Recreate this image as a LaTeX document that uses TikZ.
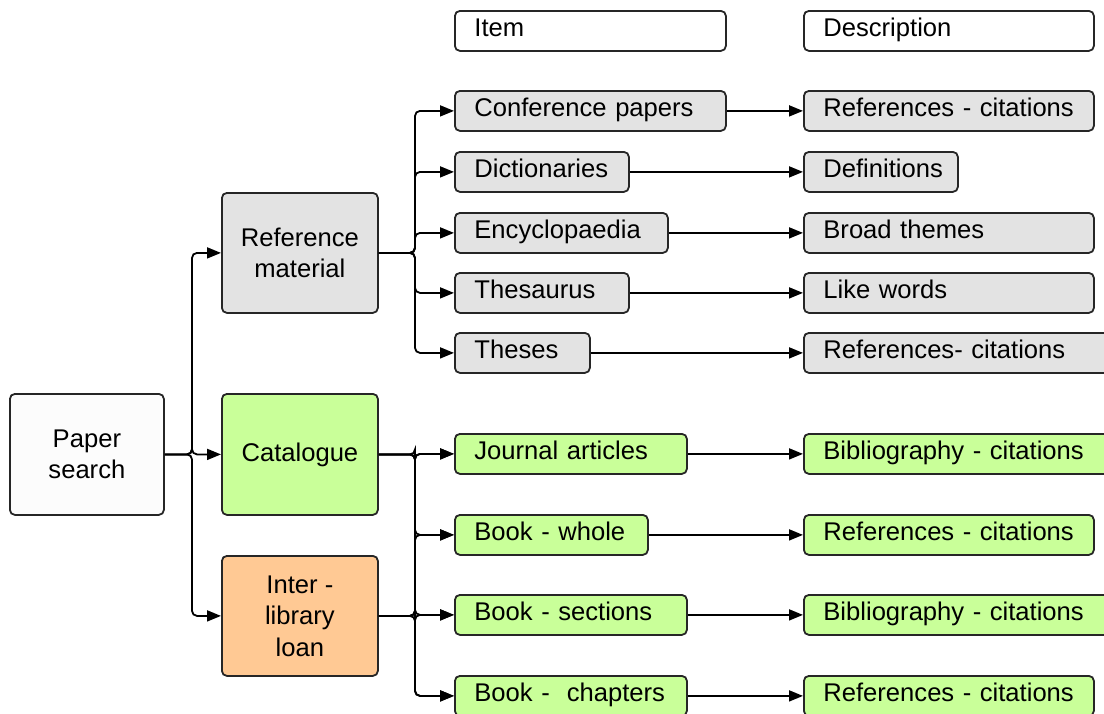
\documentclass[tikz,border=0pt]{standalone}
\usepackage{fontspec}
\setmainfont{Liberation Sans}
\usetikzlibrary{arrows.meta}
\definecolor{boxgray}{HTML}{E3E3E3}
\definecolor{boxgreen}{HTML}{C9FF99}
\definecolor{boxorange}{HTML}{FFC994}
\definecolor{boxwhite}{HTML}{FCFCFC}
\definecolor{edge}{HTML}{262626}
\begin{document}
\begin{tikzpicture}[x=1pt,y=-1pt,
  every node/.style={font=\fontsize{25.6}{31.5}\selectfont, text=black},
  base/.style={draw=edge, line width=1.8pt, rounded corners=5pt},
  % one-line box, text set 20 units from the left edge
  cell/.style={base, anchor=north west, inner xsep=0pt, inner ysep=0pt,
    text width=#1, align=left, minimum height=40pt,
    text height=18pt, text depth=6pt,
    execute at begin node={\hspace*{19.5pt}}},
  % large box, text centred
  block/.style={base, anchor=north west, inner sep=0pt, align=center,
    minimum width=156pt, minimum height=120pt},
  conn/.style={draw=black, line width=1.8pt, rounded corners=5pt,
    -{Triangle[length=14pt,width=11pt]}}
]
\useasboundingbox (0,0) rectangle (1104,713);
\clip (0,0) rectangle (1104,713);

% column headings
\node[cell=271pt, fill=white] (hitem) at (454,10) {Item};
\node[cell=290pt, fill=white] (hdesc) at (803,10) {Description};

% left column
\node[block, fill=boxwhite, minimum width=154pt, minimum height=121pt] (ps) at (9,393) {Paper\\search};
\node[block, fill=boxgray] (rm) at (221,192) {Reference\\material};
\node[block, fill=boxgreen, minimum height=121pt] (cat) at (221,393) {Catalogue};
\node[block, fill=boxorange] (ill) at (221,555) {Inter -\\library\\loan};

% reference material items
\node[cell=271pt, fill=boxgray] (r1) at (454,90)  {Conference papers};
\node[cell=174pt, fill=boxgray] (r2) at (454,151) {Dictionaries};
\node[cell=213pt, fill=boxgray] (r3) at (454,212) {Encyclopaedia};
\node[cell=174pt, fill=boxgray] (r4) at (454,272) {Thesaurus};
\node[cell=135pt, fill=boxgray] (r5) at (454,332) {Theses};

\node[cell=290pt, fill=boxgray] (d1) at (803,90)  {References - citations};
\node[cell=154pt, fill=boxgray] (d2) at (803,151) {Definitions};
\node[cell=290pt, fill=boxgray] (d3) at (803,212) {Broad themes};
\node[cell=290pt, fill=boxgray] (d4) at (803,272) {Like words};
\node[cell=320pt, fill=boxgray] (d5) at (803,332) {References- citations};

% catalogue / inter-library loan items
\node[cell=232pt, fill=boxgreen] (c1) at (454,433) {Journal articles};
\node[cell=193pt, fill=boxgreen] (c2) at (454,514) {Book - whole};
\node[cell=232pt, fill=boxgreen] (c3) at (454,594) {Book - sections};
\node[cell=232pt, fill=boxgreen] (c4) at (454,675) {Book - \ chapters};

\node[cell=320pt, fill=boxgreen] (e1) at (803,433) {Bibliography - citations};
\node[cell=290pt, fill=boxgreen] (e2) at (803,514) {References - citations};
\node[cell=320pt, fill=boxgreen] (e3) at (803,594) {Bibliography - citations};
\node[cell=290pt, fill=boxgreen] (e4) at (803,675) {References - citations};

% trunk positions
\coordinate (ta) at (192,0);
\coordinate (tb) at (415,0);

% paper search to the three sources
\foreach \t in {rm,cat,ill}
  \draw[conn] (ps.east) -- (ps.east -| ta) |- (\t.west);

% reference material to its items
\foreach \t in {r1,r2,r3,r4,r5}
  \draw[conn] (rm.east) -- (rm.east -| tb) |- (\t.west);

% catalogue and inter-library loan to their items
\foreach \t in {c1,c2,c3,c4} {
  \draw[conn] (cat.east) -- (cat.east -| tb) |- (\t.west);
  \draw[conn] (ill.east) -- (ill.east -| tb) |- (\t.west);
}

% item to description
\foreach \a/\b in {r1/d1,r2/d2,r3/d3,r4/d4,r5/d5,c1/e1,c2/e2,c3/e3,c4/e4}
  \draw[conn] (\a.east) -- (\b.west);
\end{tikzpicture}
\end{document}
